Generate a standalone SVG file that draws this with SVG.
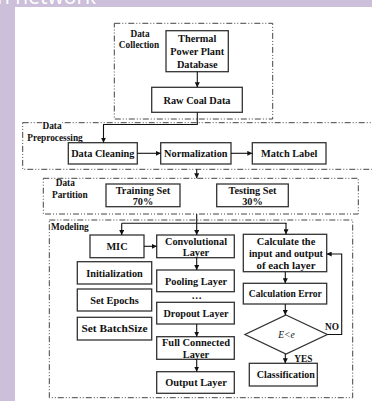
<svg xmlns="http://www.w3.org/2000/svg" width="372" height="401" viewBox="0 0 372 401">
<defs>
<marker id="ah" viewBox="0 0 10 10" refX="10" refY="5" markerWidth="5" markerHeight="5" orient="auto" markerUnits="userSpaceOnUse">
<path d="M0,0 L10,5 L0,10 z" fill="#111"/>
</marker>
<style>
.bx{fill:#fff;stroke:#333;stroke-width:1.3}
.grp{fill:none;stroke:#444;stroke-width:1;stroke-dasharray:6 2 1 2 1 2}
.t{font-family:"Liberation Serif","Times New Roman",serif;font-weight:bold;font-size:10.3px;fill:#111;text-anchor:middle}
.lb{font-family:"Liberation Serif","Times New Roman",serif;font-weight:bold;font-size:9.3px;fill:#111;text-anchor:middle}
.c{fill:none;stroke:#111;stroke-width:1.1}
.ca{fill:none;stroke:#111;stroke-width:1.1;marker-end:url(#ah)}
</style>
</defs>
<rect x="0" y="0" width="372" height="401" fill="#fff"/>
<rect x="0" y="0" width="372" height="7" fill="#cbbfd9"/>
<rect x="0" y="0" width="15" height="401" fill="#cbbfd9"/>
<text x="-3" y="4" font-family="Open Sans, sans-serif" font-size="21" fill="#fff">n network</text>

<g id="group-collection">
<rect class="grp" x="114.3" y="23.3" width="158.4" height="95.7"/>
<text class="lb" x="140" y="37">Data</text>
<text class="lb" x="139" y="47.5">Collection</text>
</g>
<g id="group-preprocessing">
<rect class="grp" x="22.7" y="122.7" width="360" height="46.6"/>
<rect x="42" y="119" width="20" height="8" fill="#fff"/>
<text class="lb" x="52" y="128.5">Data</text>
<text class="lb" x="55" y="140.5">Preprocessing</text>
</g>
<g id="group-partition">
<rect class="grp" x="43.3" y="178.3" width="315" height="35.7"/>
<text class="lb" x="65.3" y="186">Data</text>
<text class="lb" x="69.8" y="198.3">Partition</text>
</g>
<g id="group-modeling">
<rect class="grp" x="49.3" y="220" width="303.4" height="177.7"/>
<text class="lb" x="51" y="229.8" style="text-anchor:start">Modeling</text>
</g>

<g id="thermal"><rect class="bx" x="166" y="30.7" width="62.3" height="41"/>
<text class="t" x="197.2" y="41.8">Thermal</text><text class="t" x="197.2" y="55">Power Plant</text><text class="t" x="197.2" y="67.8">Database</text></g>
<g id="raw"><rect class="bx" x="151.7" y="87.3" width="90.6" height="25"/>
<text class="t" x="197" y="103.5">Raw Coal Data</text></g>
<g id="cleaning"><rect class="bx" x="68.3" y="142.7" width="69" height="21.3"/>
<text class="t" x="102.8" y="156.8">Data Cleaning</text></g>
<g id="normalization"><rect class="bx" x="160.7" y="142.7" width="70.3" height="21.3"/>
<text class="t" x="195.8" y="156.8">Normalization</text></g>
<g id="match"><rect class="bx" x="252.3" y="142.7" width="73.7" height="21.3"/>
<text class="t" x="289.2" y="156.8">Match Label</text></g>
<g id="training"><rect class="bx" x="106" y="184" width="74" height="22.7"/>
<text class="t" x="143" y="193.5">Training Set</text><text class="t" x="143" y="205">70%</text></g>
<g id="testing"><rect class="bx" x="216.7" y="184" width="71.6" height="22.7"/>
<text class="t" x="252.5" y="193.5">Testing Set</text><text class="t" x="252.5" y="205">30%</text></g>
<g id="mic"><rect class="bx" x="90" y="235" width="54" height="22.7"/>
<text class="t" x="117" y="250">MIC</text></g>
<g id="conv"><rect class="bx" x="156.7" y="235" width="77.6" height="22.7"/>
<text class="t" x="196" y="244.5" textLength="62" lengthAdjust="spacingAndGlyphs">Convolutional</text><text class="t" x="196" y="256">Layer</text></g>
<g id="init"><rect class="bx" x="77.3" y="261.7" width="74.4" height="22.3"/>
<text class="t" x="114.5" y="276.5">Initialization</text></g>
<g id="epochs"><rect class="bx" x="77.3" y="289" width="74.4" height="22"/>
<text class="t" x="114.5" y="303.5">Set Epochs</text></g>
<g id="batch"><rect class="bx" x="77.3" y="317.3" width="74.4" height="22.7"/>
<text class="t" x="114.5" y="332" textLength="66" lengthAdjust="spacingAndGlyphs">Set BatchSize</text></g>
<g id="pool"><rect class="bx" x="156.7" y="270" width="77.6" height="21.7"/>
<text class="t" x="196" y="284.5">Pooling Layer</text></g>
<g id="dots"><text class="t" x="196.7" y="299">…</text></g>
<g id="dropout"><rect class="bx" x="156.7" y="302.3" width="77.6" height="21.7"/>
<text class="t" x="196" y="316.5" textLength="65" lengthAdjust="spacingAndGlyphs">Dropout Layer</text></g>
<g id="full"><rect class="bx" x="156.7" y="336.7" width="77.6" height="22.6"/>
<text class="t" x="196" y="345.8" textLength="68" lengthAdjust="spacingAndGlyphs">Full Connected</text><text class="t" x="196" y="358.3">Layer</text></g>
<g id="output"><rect class="bx" x="156.7" y="371.7" width="77.6" height="21.6"/>
<text class="t" x="196" y="386" textLength="61.5" lengthAdjust="spacingAndGlyphs">Output Layer</text></g>
<g id="calc"><rect class="bx" x="243.3" y="234.3" width="83.4" height="37.4"/>
<text class="t" x="286" y="245" textLength="58.5" lengthAdjust="spacingAndGlyphs">Calculate the</text><text class="t" x="286" y="257.3" textLength="74" lengthAdjust="spacingAndGlyphs">input and output</text><text class="t" x="286" y="269.3" textLength="59" lengthAdjust="spacingAndGlyphs">of each layer</text></g>
<g id="calcerr"><rect class="bx" x="243.3" y="283.3" width="83.4" height="20.7"/>
<text class="t" x="285.3" y="297.3" textLength="73" lengthAdjust="spacingAndGlyphs">Calculation Error</text></g>
<g id="decision"><polygon class="bx" points="286,315 327.3,334.5 286,354 245,334.5"/>
<text x="286.5" y="338" font-family="Liberation Serif, serif" font-style="italic" font-size="9.5" fill="#111" text-anchor="middle">E&lt;e</text></g>
<g id="classification"><rect class="bx" x="249.3" y="363.3" width="68" height="22.7"/>
<text class="t" x="285.8" y="378.3" textLength="58" lengthAdjust="spacingAndGlyphs">Classification</text></g>

<g id="connectors">
<path class="ca" d="M197.3,71.7 V87.3"/>
<path class="ca" d="M197.3,112.3 V124.5 H103.5 V142.7"/>
<path class="ca" d="M137.3,153.3 H160.7"/>
<path class="ca" d="M231,153.3 H252.3"/>
<path class="ca" d="M196.7,169.3 V178.3"/>
<path class="c" d="M196.7,214 V223.3 M121.7,223.3 H286 V224"/>
<path class="ca" d="M121.7,223.3 V235"/>
<path class="ca" d="M196.7,223.3 V235"/>
<path class="ca" d="M286,223.3 V234.3"/>
<path class="ca" d="M144,246.3 H156.7"/>
<path class="ca" d="M196.7,257.7 V270"/>
<path class="ca" d="M196.7,324 V336.7"/>
<path class="ca" d="M196.7,359.3 V371.7"/>
<path class="ca" d="M285.3,271.7 V283.3"/>
<path class="ca" d="M285.3,304 V315"/>
<path class="ca" d="M285.3,354 V363.3"/>
<path class="ca" d="M327.3,334.5 H341.7 V254 H326.7"/>
<text class="lb" x="332" y="329.5">NO</text>
<text class="lb" x="303.3" y="361.8">YES</text>
</g>
</svg>
